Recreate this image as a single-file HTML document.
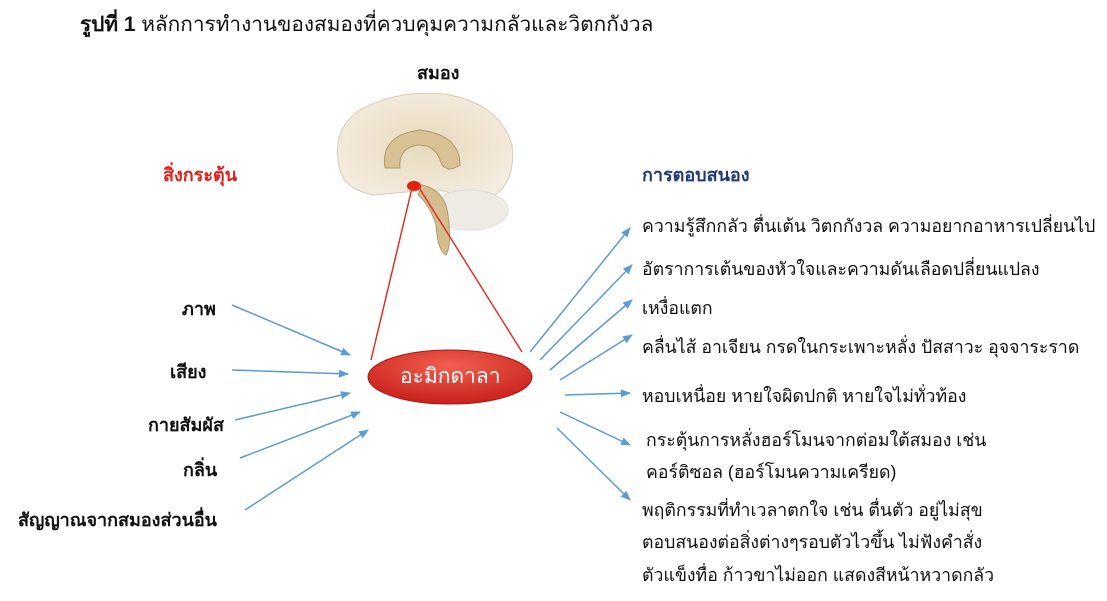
<!DOCTYPE html>
<html><head><meta charset="utf-8">
<style>
html,body{margin:0;padding:0;background:#fff;}
body{width:1107px;height:601px;position:relative;overflow:hidden;font-family:"Liberation Sans","DejaVu Sans",sans-serif;}
.t{position:absolute;white-space:nowrap;font-size:17.7px;color:#111;}
.b{font-weight:bold;font-size:18px;}
</style></head><body>
<svg width="1107" height="601" style="position:absolute;left:0;top:0">
<defs>
<marker id="a" markerWidth="10" markerHeight="8" refX="9" refY="4" orient="auto" markerUnits="userSpaceOnUse"><path d="M0,0 L10,4 L0,8 z" fill="#5b9bd5"/></marker>
<radialGradient id="g" cx="50%" cy="30%" r="70%"><stop offset="0" stop-color="#f06050"/><stop offset="1" stop-color="#c8201a"/></radialGradient>
<radialGradient id="br" cx="50%" cy="50%" r="60%"><stop offset="0" stop-color="#e8d9bd"/><stop offset="1" stop-color="#f4ede0"/></radialGradient>
</defs>
<!-- brain -->
<path d="M340,170 Q330,130 360,110 Q400,88 450,95 Q500,105 512,145 Q516,180 495,195 Q470,200 440,190 Q400,192 375,195 Q345,190 340,170 z" fill="url(#br)" stroke="#d8ccb8"/>
<ellipse cx="470" cy="210" rx="38" ry="20" fill="#eeeae4" stroke="#ddd"/>
<path d="M385,168 Q380,135 420,130 Q460,135 460,165 Q445,175 440,160 Q435,145 418,145 Q398,148 400,168 z" fill="#d8c295" stroke="#b09a6e"/>
<path d="M422,185 Q445,190 448,215 Q452,245 446,255 Q438,252 436,225 Q430,205 418,195 z" fill="#d4bd8e" stroke="#b09a6e"/>
<ellipse cx="414" cy="186" rx="7" ry="5" fill="#e02010"/>
<!-- red lines -->
<line x1="412" y1="188" x2="371" y2="360" stroke="#e0302a" stroke-width="1.5"/>
<line x1="418" y1="186" x2="522" y2="352" stroke="#e0302a" stroke-width="1.5"/>
<!-- ellipse -->
<ellipse cx="450" cy="377" rx="82" ry="27" fill="url(#g)" stroke="#b01810"/>
<g stroke="#5b9bd5" stroke-width="1.5" marker-end="url(#a)">
<line x1="232" y1="305" x2="350" y2="355"/>
<line x1="232" y1="370" x2="348" y2="374"/>
<line x1="235" y1="420" x2="350" y2="393"/>
<line x1="240" y1="458" x2="360" y2="412"/>
<line x1="245" y1="510" x2="368" y2="430"/>
<line x1="530" y1="352" x2="630" y2="228"/>
<line x1="540" y1="360" x2="632" y2="265"/>
<line x1="550" y1="370" x2="632" y2="300"/>
<line x1="560" y1="380" x2="632" y2="335"/>
<line x1="565" y1="395" x2="630" y2="393"/>
<line x1="560" y1="412" x2="630" y2="445"/>
<line x1="557" y1="428" x2="630" y2="500"/>
</g>
</svg>
<div class="t" style="left:80px;top:8px;font-size:20.8px"><b>รูปที่ 1</b> หลักการทำงานของสมองที่ควบคุมความกลัวและวิตกกังวล</div>
<div class="t b" style="left:417px;top:58px">สมอง</div>
<div class="t b" style="left:163px;top:160px;color:#e0201a">สิ่งกระตุ้น</div>
<div class="t b" style="left:642px;top:160px;color:#1f3a7a">การตอบสนอง</div>
<div class="t" style="left:400px;top:360px;color:#fff;font-size:21px">อะมิกดาลา</div>
<div class="t b" style="left:182px;top:294px">ภาพ</div>
<div class="t b" style="left:170px;top:357px">เสียง</div>
<div class="t b" style="left:148px;top:410px">กายสัมผัส</div>
<div class="t b" style="left:183px;top:455px">กลิ่น</div>
<div class="t b" style="left:18px;top:505px">สัญญาณจากสมองส่วนอื่น</div>
<div class="t" style="left:642px;top:212px">ความรู้สึกกลัว ตื่นเต้น วิตกกังวล ความอยากอาหารเปลี่ยนไป</div>
<div class="t" style="left:642px;top:255px">อัตราการเต้นของหัวใจและความดันเลือดปลี่ยนแปลง</div>
<div class="t" style="left:642px;top:294px">เหงื่อแตก</div>
<div class="t" style="left:642px;top:333px">คลื่นไส้ อาเจียน กรดในกระเพาะหลั่ง ปัสสาวะ อุจจาระราด</div>
<div class="t" style="left:642px;top:382px">หอบเหนื่อย หายใจผิดปกติ หายใจไม่ทั่วท้อง</div>
<div class="t" style="left:646px;top:426px">กระตุ้นการหลั่งฮอร์โมนจากต่อมใต้สมอง เช่น</div>
<div class="t" style="left:646px;top:458px">คอร์ติซอล (ฮอร์โมนความเครียด)</div>
<div class="t" style="left:642px;top:496px">พฤติกรรมที่ทำเวลาตกใจ เช่น ตื่นตัว อยู่ไม่สุข</div>
<div class="t" style="left:642px;top:528px">ตอบสนองต่อสิ่งต่างๆรอบตัวไวขึ้น ไม่ฟังคำสั่ง</div>
<div class="t" style="left:642px;top:561px">ตัวแข็งทื่อ ก้าวขาไม่ออก แสดงสีหน้าหวาดกลัว</div>
</body></html>
